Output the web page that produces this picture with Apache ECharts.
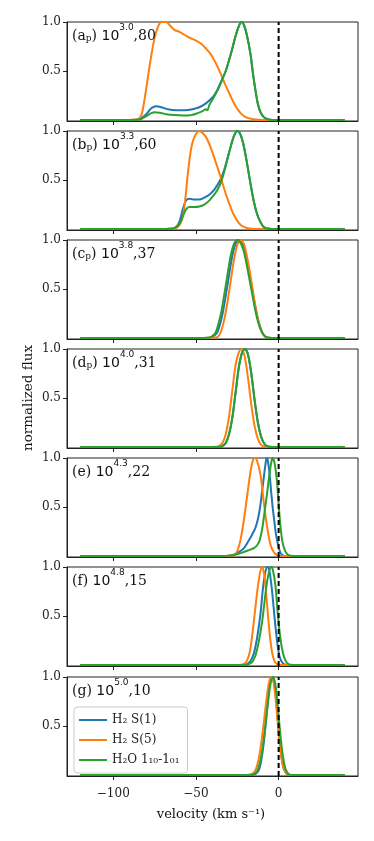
<!DOCTYPE html>
<html>
<head>
<meta charset="utf-8">
<script src="https://cdn.jsdelivr.net/npm/echarts@6/dist/echarts.min.js"></script>
<style>
html, body { margin: 0; padding: 0; background: #fff; }
#main { width: 374px; height: 841px; }
</style>
</head>
<body>
<div id="main"></div>
<script>
// panel labels
var tags = ['a', 'b', 'c', 'd', 'e', 'f', 'g'];
var subs = ['p', 'p', 'p', 'p', '', '', ''];
var exps = ['3.0', '3.3', '3.8', '4.0', '4.3', '4.8', '5.0'];
var tails = ['80', '60', '37', '31', '22', '15', '10'];
var xTicks = [-100, -50, 0];
var yTicks = [0.5, 1.0];
var names = ['H\u2082 S(1)', 'H\u2082 S(5)', 'H\u2082O 1\u2081\u2080-1\u2080\u2081'];

// (velocity, normalized flux)
var aBlue = [[-120,0],[-92,0],[-88,0.002],[-84,0.01],[-80,0.06],[-77,0.12],[-74,0.14],[-71,0.13],[-67,0.11],[-62,0.10],[-57,0.10],[-52,0.11],[-48,0.13],[-44,0.17],[-40,0.23],[-37,0.31],[-34,0.42],[-32,0.50],[-30,0.61],[-28,0.73],[-26,0.86],[-24,0.96],[-22.5,1.0],[-21,0.97],[-19,0.85],[-17,0.67],[-15.5,0.47],[-14,0.30],[-12.5,0.16],[-11,0.08],[-9,0.03],[-7,0.01],[-5,0.002],[-2,0],[40,0]];
var aOrange = [[-120,0],[-92,0],[-88,0.002],[-85,0.01],[-83,0.05],[-81.5,0.17],[-80,0.33],[-78.5,0.5],[-77,0.66],[-75.5,0.8],[-74,0.9],[-72.5,0.97],[-71,1.0],[-68,1.0],[-66,0.97],[-63,0.92],[-60,0.9],[-57,0.87],[-54,0.84],[-50,0.81],[-47,0.78],[-44,0.73],[-41,0.67],[-38,0.58],[-35,0.47],[-32,0.35],[-29,0.24],[-26,0.14],[-23,0.07],[-20,0.03],[-16,0.01],[-12,0.002],[-8,0],[40,0]];
var aGreen = [[-120,0],[-92,0],[-88,0.001],[-84,0.005],[-80,0.04],[-77,0.07],[-75,0.08],[-72,0.075],[-68,0.06],[-63,0.05],[-58,0.045],[-53,0.05],[-49,0.07],[-46,0.09],[-44,0.11],[-43,0.10],[-42,0.15],[-40,0.21],[-37,0.30],[-34,0.42],[-32,0.50],[-30,0.61],[-28,0.73],[-26,0.86],[-24,0.96],[-22.5,1.0],[-21,0.97],[-19,0.85],[-17,0.67],[-15.5,0.47],[-14,0.30],[-12.5,0.16],[-11,0.08],[-9,0.03],[-7,0.01],[-5,0.002],[-2,0],[40,0]];

var bBlue = [[-120,0],[-70,0],[-66,0.002],[-63,0.01],[-61,0.04],[-59.5,0.1],[-58,0.2],[-56,0.29],[-54,0.31],[-51,0.3],[-48,0.3],[-45,0.32],[-42,0.35],[-39,0.40],[-37,0.45],[-35,0.51],[-33,0.6],[-31,0.72],[-29,0.84],[-27,0.95],[-25,1.0],[-23,0.96],[-21,0.84],[-19,0.66],[-17,0.46],[-15,0.28],[-13,0.15],[-11,0.07],[-9,0.02],[-7,0.005],[-4,0],[40,0]];
var bOrange = [[-120,0],[-70,0],[-66,0.002],[-62,0.01],[-60,0.04],[-58,0.12],[-56.5,0.3],[-55,0.55],[-53.5,0.76],[-52,0.89],[-50,0.97],[-48,1.0],[-46,0.98],[-44,0.94],[-42,0.87],[-40,0.78],[-37,0.63],[-34,0.47],[-32,0.36],[-29,0.22],[-27,0.14],[-24,0.06],[-22,0.03],[-19,0.01],[-16,0.002],[-12,0],[40,0]];
var bGreen = [[-120,0],[-70,0],[-66,0.002],[-63,0.01],[-60,0.05],[-58,0.13],[-56,0.2],[-54,0.225],[-51,0.225],[-48,0.23],[-45,0.25],[-42,0.29],[-39,0.35],[-37,0.40],[-35,0.47],[-33,0.58],[-31,0.71],[-29,0.84],[-27,0.95],[-25,1.0],[-23,0.96],[-21,0.84],[-19,0.66],[-17,0.46],[-15,0.28],[-13,0.15],[-11,0.07],[-9,0.02],[-7,0.005],[-4,0],[40,0]];

var cBlue = [[-120,0],[-46,0],[-42,0.002],[-40,0.01],[-37,0.06],[-34,0.24],[-32,0.43],[-30,0.64],[-28,0.84],[-26,0.96],[-24,1.0],[-22,0.97],[-20,0.87],[-18,0.7],[-16,0.5],[-14,0.31],[-12,0.16],[-10,0.06],[-8,0.015],[-6,0.002],[-3,0],[40,0]];
var cOrange = [[-120,0],[-44,0],[-40,0.002],[-37,0.01],[-35,0.06],[-33,0.18],[-31,0.36],[-29,0.58],[-27,0.8],[-25,0.95],[-23,1.0],[-21,0.96],[-19,0.82],[-17,0.63],[-15,0.42],[-13,0.23],[-11,0.1],[-9,0.03],[-7,0.005],[-4,0],[40,0]];
var cGreen = [[-120,0],[-48,0],[-44,0.002],[-41,0.01],[-38,0.06],[-35,0.24],[-33,0.43],[-31,0.64],[-29,0.84],[-27,0.96],[-25,1.0],[-23,0.97],[-21,0.88],[-19,0.72],[-17,0.54],[-15,0.36],[-13,0.2],[-11,0.09],[-9,0.03],[-7,0.005],[-4,0],[40,0]];

var dBlue = [[-120,0],[-40,0],[-36,0.002],[-34,0.01],[-32,0.04],[-30,0.13],[-28,0.3],[-26,0.56],[-24,0.82],[-22,0.97],[-20.3,1.0],[-18.5,0.94],[-16.5,0.74],[-14.5,0.47],[-12.5,0.24],[-10.5,0.1],[-8.5,0.03],[-6.5,0.005],[-4,0],[40,0]];
var dOrange = [[-120,0],[-42,0],[-38,0.002],[-36,0.01],[-34,0.04],[-32,0.13],[-30,0.31],[-28,0.58],[-26,0.84],[-24,0.97],[-22.5,1.0],[-20.5,0.92],[-18.5,0.7],[-16.5,0.43],[-14.5,0.21],[-12.5,0.08],[-10.5,0.02],[-8.5,0.004],[-6,0],[40,0]];
var dGreen = [[-120,0],[-40,0],[-36,0.002],[-34,0.01],[-32,0.04],[-30,0.13],[-28,0.3],[-26,0.56],[-24,0.82],[-22,0.97],[-20.5,1.0],[-18.5,0.94],[-16.5,0.75],[-14.5,0.48],[-12.5,0.25],[-10.5,0.1],[-8.5,0.03],[-6.5,0.005],[-4,0],[40,0]];

var eBlue = [[-120,0],[-33,0],[-30,0.002],[-27,0.01],[-24,0.04],[-21,0.08],[-18,0.16],[-16,0.22],[-14,0.29],[-12.5,0.38],[-11.2,0.5],[-10,0.66],[-9,0.8],[-8,0.93],[-7.3,1.0],[-6.5,0.97],[-5.5,0.84],[-4.5,0.65],[-3.5,0.48],[-2.5,0.34],[-1.5,0.21],[0,0.09],[1.2,0.03],[2.5,0.006],[4,0],[40,0]];
var eOrange = [[-120,0],[-33,0],[-30,0.002],[-27,0.01],[-25,0.05],[-23,0.17],[-21,0.37],[-19,0.62],[-17,0.86],[-15.5,0.98],[-14.3,1.0],[-13,0.97],[-11,0.83],[-9,0.55],[-7,0.3],[-5,0.12],[-3,0.04],[-1,0.01],[1,0.002],[3,0],[40,0]];
var eGreen = [[-120,0],[-34,0],[-30,0.004],[-26,0.015],[-22,0.035],[-18,0.06],[-15,0.08],[-13,0.11],[-11.5,0.16],[-10,0.27],[-8.5,0.45],[-7,0.64],[-5.5,0.84],[-4.5,0.95],[-3.7,1.0],[-2.5,0.95],[-1,0.76],[0.4,0.44],[1.5,0.24],[2.5,0.13],[4,0.05],[5.5,0.015],[7.5,0.002],[10,0],[40,0]];

var fBlue = [[-120,0],[-24,0],[-21,0.002],[-19,0.01],[-17,0.04],[-15,0.12],[-13,0.28],[-11,0.52],[-9.5,0.78],[-8,0.95],[-6.7,1.0],[-5.5,0.95],[-4,0.76],[-2.5,0.49],[-1,0.25],[0.5,0.09],[2,0.03],[3.5,0.005],[6,0],[40,0]];
var fOrange = [[-120,0],[-26,0],[-23,0.002],[-21,0.01],[-19,0.05],[-17.5,0.13],[-16,0.3],[-14.5,0.52],[-13,0.74],[-11.5,0.92],[-10,1.0],[-8.5,0.9],[-7,0.62],[-5.5,0.33],[-4,0.13],[-2.5,0.04],[-1,0.01],[1,0.002],[3,0],[40,0]];
var fGreen = [[-120,0],[-23,0],[-20,0.002],[-18,0.01],[-16,0.03],[-14,0.1],[-12,0.24],[-10,0.44],[-8.5,0.65],[-7,0.85],[-5.5,0.97],[-4.5,1.0],[-3.5,0.97],[-2,0.82],[-0.5,0.52],[1,0.28],[2.5,0.13],[4,0.05],[5.5,0.015],[7.5,0.002],[10,0],[40,0]];

var gBlue = [[-120,0],[-19,0],[-16,0.002],[-14,0.01],[-12,0.05],[-10.5,0.15],[-9,0.33],[-7.5,0.58],[-6,0.84],[-5,0.96],[-4,1.0],[-3,0.96],[-1.5,0.76],[0,0.46],[1,0.28],[2,0.15],[3,0.07],[4.5,0.02],[6,0.003],[8,0],[40,0]];
var gOrange = [[-120,0],[-21,0],[-18,0.002],[-16,0.01],[-14,0.05],[-12,0.17],[-10.5,0.33],[-9,0.53],[-7.5,0.75],[-6,0.93],[-4.5,1.0],[-3,0.94],[-1.5,0.72],[0,0.43],[1.5,0.2],[3,0.07],[4.5,0.02],[6,0.004],[8,0],[40,0]];
var gGreen = [[-120,0],[-20,0],[-17,0.002],[-15,0.01],[-13,0.04],[-11,0.15],[-9.5,0.3],[-8,0.5],[-6.5,0.73],[-5,0.92],[-3.5,1.0],[-2,0.93],[-0.5,0.7],[1,0.42],[2.5,0.2],[4,0.07],[5.5,0.02],[7,0.004],[9,0],[40,0]];

var blues = [aBlue, bBlue, cBlue, dBlue, eBlue, fBlue, gBlue];
var oranges = [aOrange, bOrange, cOrange, dOrange, eOrange, fOrange, gOrange];
var greens = [aGreen, bGreen, cGreen, dGreen, eGreen, fGreen, gGreen];

var colors = ['#1f77b4', '#ff7f0e', '#2ca02c'];
var serif = 'DejaVu Serif';
var tops = [22, 131, 240, 349, 458, 567, 677];
var yMin = -0.01;

var grids = [], xAxes = [], yAxes = [], series = [], graphics = [];

tops.forEach(function(top, i) {
  grids.push({
    left: 67, right: 16, top: top, height: 99,
    show: true, borderColor: '#222', borderWidth: 1
  });
  xAxes.push({
    type: 'value', gridIndex: i, min: -128, max: 48,
    splitLine: { show: false },
    axisLine: { show: true, onZero: false, lineStyle: { color: '#222' } },
    axisTick: { show: true, customValues: xTicks, length: 4, lineStyle: { color: '#222' } },
    axisLabel: {
      show: i === 6, customValues: xTicks, margin: 12,
      fontFamily: serif, fontSize: 12, color: '#222',
      formatter: function(v) { return v < 0 ? '\u2212' + (-v) : '' + v; }
    }
  });
  yAxes.push({
    type: 'value', gridIndex: i, min: yMin, max: 1,
    splitLine: { show: false },
    axisLine: { show: true, onZero: false, lineStyle: { color: '#222' } },
    axisTick: { show: true, customValues: yTicks, length: 4, lineStyle: { color: '#222' } },
    axisLabel: {
      customValues: yTicks, margin: 6,
      fontFamily: serif, fontSize: 12, color: '#222',
      formatter: function(v) { return v.toFixed(1); }
    }
  });

  [blues[i], oranges[i], greens[i]].forEach(function(d, k) {
    series.push({
      type: 'line', name: names[k], xAxisIndex: i, yAxisIndex: i,
      data: d, symbol: 'none', smooth: 0.3,
      lineStyle: { width: 2, color: colors[k] },
      itemStyle: { color: colors[k] },
      z: 2 + k
    });
  });
  // dashed v = 0 line
  series.push({
    type: 'line', xAxisIndex: i, yAxisIndex: i,
    data: [[0, yMin], [0, 1]], symbol: 'none', silent: true,
    lineStyle: { width: 2, color: '#000', type: [5, 3] },
    z: 6
  });

  var txt = '{n|(' + tags[i] + '}' + (subs[i] ? '{s|' + subs[i] + '}' : '') +
    '{n|) }{m|10}{e|' + exps[i] + '}{n|,' + tails[i] + '}';
  graphics.push({
    type: 'text', left: 72, top: top + 1, z: 10,
    style: {
      text: txt,
      rich: {
        n: { fontFamily: serif, fontSize: 14, fill: '#111', verticalAlign: 'bottom', lineHeight: 19 },
        m: { fontFamily: 'DejaVu Sans', fontSize: 14, fill: '#111', verticalAlign: 'bottom', lineHeight: 19 },
        s: { fontFamily: serif, fontSize: 9, fill: '#111', verticalAlign: 'bottom', lineHeight: 15 },
        e: { fontFamily: 'DejaVu Sans', fontSize: 9, fill: '#111', verticalAlign: 'top', lineHeight: 20 }
      }
    }
  });
});

graphics.push({
  type: 'text', x: 28, y: 398, rotation: Math.PI / 2,
  style: { text: 'normalized flux', fontFamily: serif, fontSize: 13.5, fill: '#111', textAlign: 'center', textVerticalAlign: 'middle' }
});
graphics.push({
  type: 'text', x: 211, y: 815,
  style: { text: 'velocity (km s\u207B\u00B9)', fontFamily: serif, fontSize: 13, fill: '#111', textAlign: 'center', textVerticalAlign: 'middle' }
});

var chart = echarts.init(document.getElementById('main'));
chart.setOption({
  animation: false,
  grid: grids,
  xAxis: xAxes,
  yAxis: yAxes,
  series: series,
  graphic: graphics,
  legend: {
    data: names, orient: 'vertical', left: 74, top: 707,
    icon: 'rect', itemWidth: 28, itemHeight: 2, itemGap: 6, padding: [6, 8, 6, 5],
    backgroundColor: '#fff', borderColor: '#ccc', borderWidth: 1, borderRadius: 3,
    textStyle: { fontFamily: serif, fontSize: 12, color: '#222', lineHeight: 14 },
    z: 20
  }
});
</script>
</body>
</html>
